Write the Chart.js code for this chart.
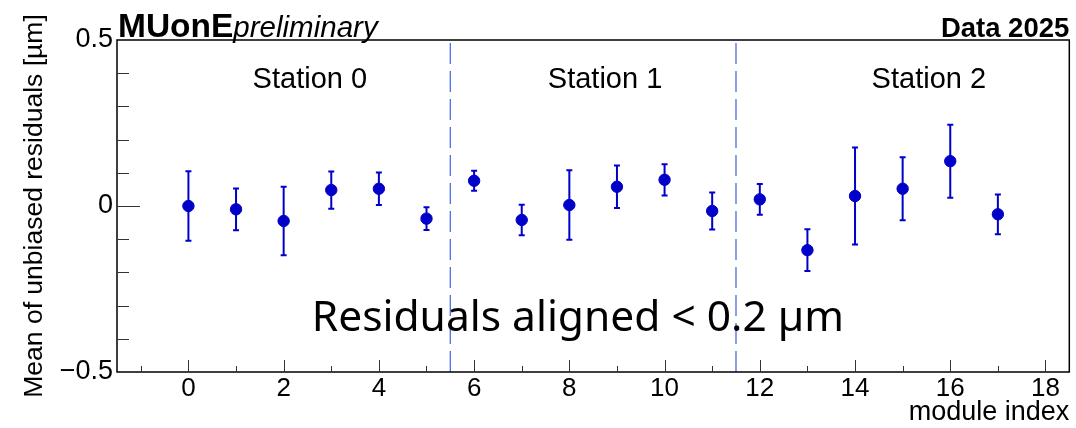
<!DOCTYPE html>
<html>
<head>
<meta charset="utf-8">
<script src="https://cdn.jsdelivr.net/npm/chart.js@4/dist/chart.umd.min.js"></script>
<style>
  html, body { margin: 0; padding: 0; background: #fff }
  #wrap { position: relative; width: 1076px; height: 428px }
</style>
</head>
<body>
<div id="wrap"><canvas id="c" width="1076" height="428"></canvas></div>
<script>
// ── Данные: средние невязки по модулям ────────────────────
const modules = [0, 1, 2, 3, 4, 5, 6, 7, 8, 9, 10, 11, 12, 13, 14, 15, 16, 17]
const means   = [0.000, -0.010, -0.045, 0.048, 0.052, -0.038, 0.076, -0.042, 0.003,
                 0.058, 0.079, -0.015, 0.020, -0.133, 0.030, 0.052, 0.135, -0.025]
const errors  = [0.105, 0.063, 0.103, 0.056, 0.049, 0.034, 0.030, 0.046, 0.105,
                 0.064, 0.047, 0.056, 0.046, 0.063, 0.146, 0.095, 0.110, 0.060]
const xTicks  = [0, 2, 4, 6, 8, 10, 12, 14, 16, 18]
const yTicks  = [-0.5, 0, 0.5]
const stationEdges  = [5.5, 11.5]
const stationLabels = ['Station 0', 'Station 1', 'Station 2']

const BLUE = '#0000c8'
const HELV = '"Liberation Sans", Arial, sans-serif'

// ROOT-подобная рамка: внутренние тики, ошибки, подписи
const rootStyle = {
  id: 'rootStyle',
  beforeDatasetsDraw(chart) {
    const { ctx, scales: { x, y } } = chart
    ctx.save()
    ctx.strokeStyle = BLUE
    ctx.lineWidth = 2
    modules.forEach((m, i) => {
      const px = x.getPixelForValue(m)
      const top = y.getPixelForValue(means[i] + errors[i])
      const bot = y.getPixelForValue(means[i] - errors[i])
      ctx.beginPath()
      ctx.moveTo(px, top); ctx.lineTo(px, bot)
      ctx.moveTo(px - 3, top); ctx.lineTo(px + 3, top)
      ctx.moveTo(px - 3, bot); ctx.lineTo(px + 3, bot)
      ctx.stroke()
    })
    ctx.restore()
  },
  afterDraw(chart) {
    const { ctx, chartArea: a, scales: { x, y } } = chart
    ctx.save()
    ctx.strokeStyle = '#000'
    ctx.lineWidth = 1.5
    ctx.strokeRect(a.left, a.top, a.right - a.left, a.bottom - a.top)

    ctx.lineWidth = 1
    ctx.strokeStyle = '#333'
    ctx.beginPath()
    for (let v = -1; v <= 18; v++) {
      const px = Math.round(x.getPixelForValue(v)) + 0.5
      ctx.moveTo(px, a.bottom)
      ctx.lineTo(px, a.bottom - (v % 2 === 0 ? 12 : 6))
    }
    for (let i = -4; i <= 4; i++) {
      const py = Math.round(y.getPixelForValue(i / 10)) + 0.5
      ctx.moveTo(a.left, py)
      ctx.lineTo(a.left + (i === 0 ? 23 : 12), py)
    }
    ctx.stroke()

    // Подписи станций
    ctx.fillStyle = '#000'
    ctx.textAlign = 'center'
    ctx.textBaseline = 'middle'
    ctx.font = '29px ' + HELV
    const labelX = [2.55, 8.75, 15.55]
    stationLabels.forEach((t, i) => ctx.fillText(t, x.getPixelForValue(labelX[i]), y.getPixelForValue(0.38)))

    ctx.font = '42.5px "Noto Sans", "Open Sans", sans-serif'
    ctx.fillText('Residuals aligned < 0.2 µm', x.getPixelForValue(8.18), y.getPixelForValue(-0.34))

    // Заголовки
    ctx.textBaseline = 'alphabetic'
    ctx.textAlign = 'left'
    ctx.font = 'bold 33.5px ' + HELV
    ctx.fillText('MUonE', a.left + 1, a.top - 3)
    const w = ctx.measureText('MUonE').width
    ctx.font = 'italic 29.5px ' + HELV
    ctx.fillText('preliminary', a.left + 1 + w, a.top - 3)
    ctx.textAlign = 'right'
    ctx.font = 'bold 27.5px ' + HELV
    ctx.fillText('Data 2025', a.right, a.top - 3)
    ctx.restore()
  }
}

new Chart(document.getElementById('c'), {
  type: 'scatter',
  data: {
    datasets: [
      {
        data: modules.map((m, i) => ({ x: m, y: means[i] })),
        backgroundColor: BLUE,
        borderColor: BLUE,
        pointRadius: 5.7,
        pointHoverRadius: 5.7,
      },
      ...stationEdges.map(e => ({
        type: 'line',
        data: [{ x: e, y: -0.5 }, { x: e, y: 0.5 }],
        borderColor: '#4a6fe3',
        borderWidth: 1.3,
        borderDash: [21, 7],
        pointRadius: 0,
        fill: false,
      }))
    ]
  },
  options: {
    responsive: false, animation: false,
    layout: { padding: { top: 40, right: 5, left: 0, bottom: 0 } },
    plugins: { legend: { display: false }, tooltip: { enabled: false } },
    scales: {
      x: {
        type: 'linear', min: -1.5, max: 18.5,
        afterBuildTicks: s => { s.ticks = xTicks.map(v => ({ value: v })) },
        afterFit: s => { s.height = 56 },
        grid: { display: false },
        border: { display: false },
        ticks: { color: '#000', font: { family: HELV, size: 26 }, padding: -7, maxRotation: 0, autoSkip: false },
        title: { display: true, text: 'module index', align: 'end', color: '#000', font: { family: HELV, size: 27 }, padding: { top: 0, bottom: -1 } }
      },
      y: {
        min: -0.5, max: 0.5,
        afterBuildTicks: s => { s.ticks = yTicks.map(v => ({ value: v })) },
        afterFit: s => { s.width = 117 },
        grid: { display: false },
        border: { display: false },
        ticks: {
          color: '#000', font: { family: HELV, size: 27 }, padding: -4,
          callback: v => v < 0 ? '\u2212' + Math.abs(v) : String(v)
        },
        title: { display: true, text: 'Mean of unbiased residuals [µm]', color: '#000', font: { family: HELV, size: 26.5 }, padding: { top: 19, bottom: 0 } }
      }
    }
  },
  plugins: [rootStyle]
})
</script>
</body>
</html>
